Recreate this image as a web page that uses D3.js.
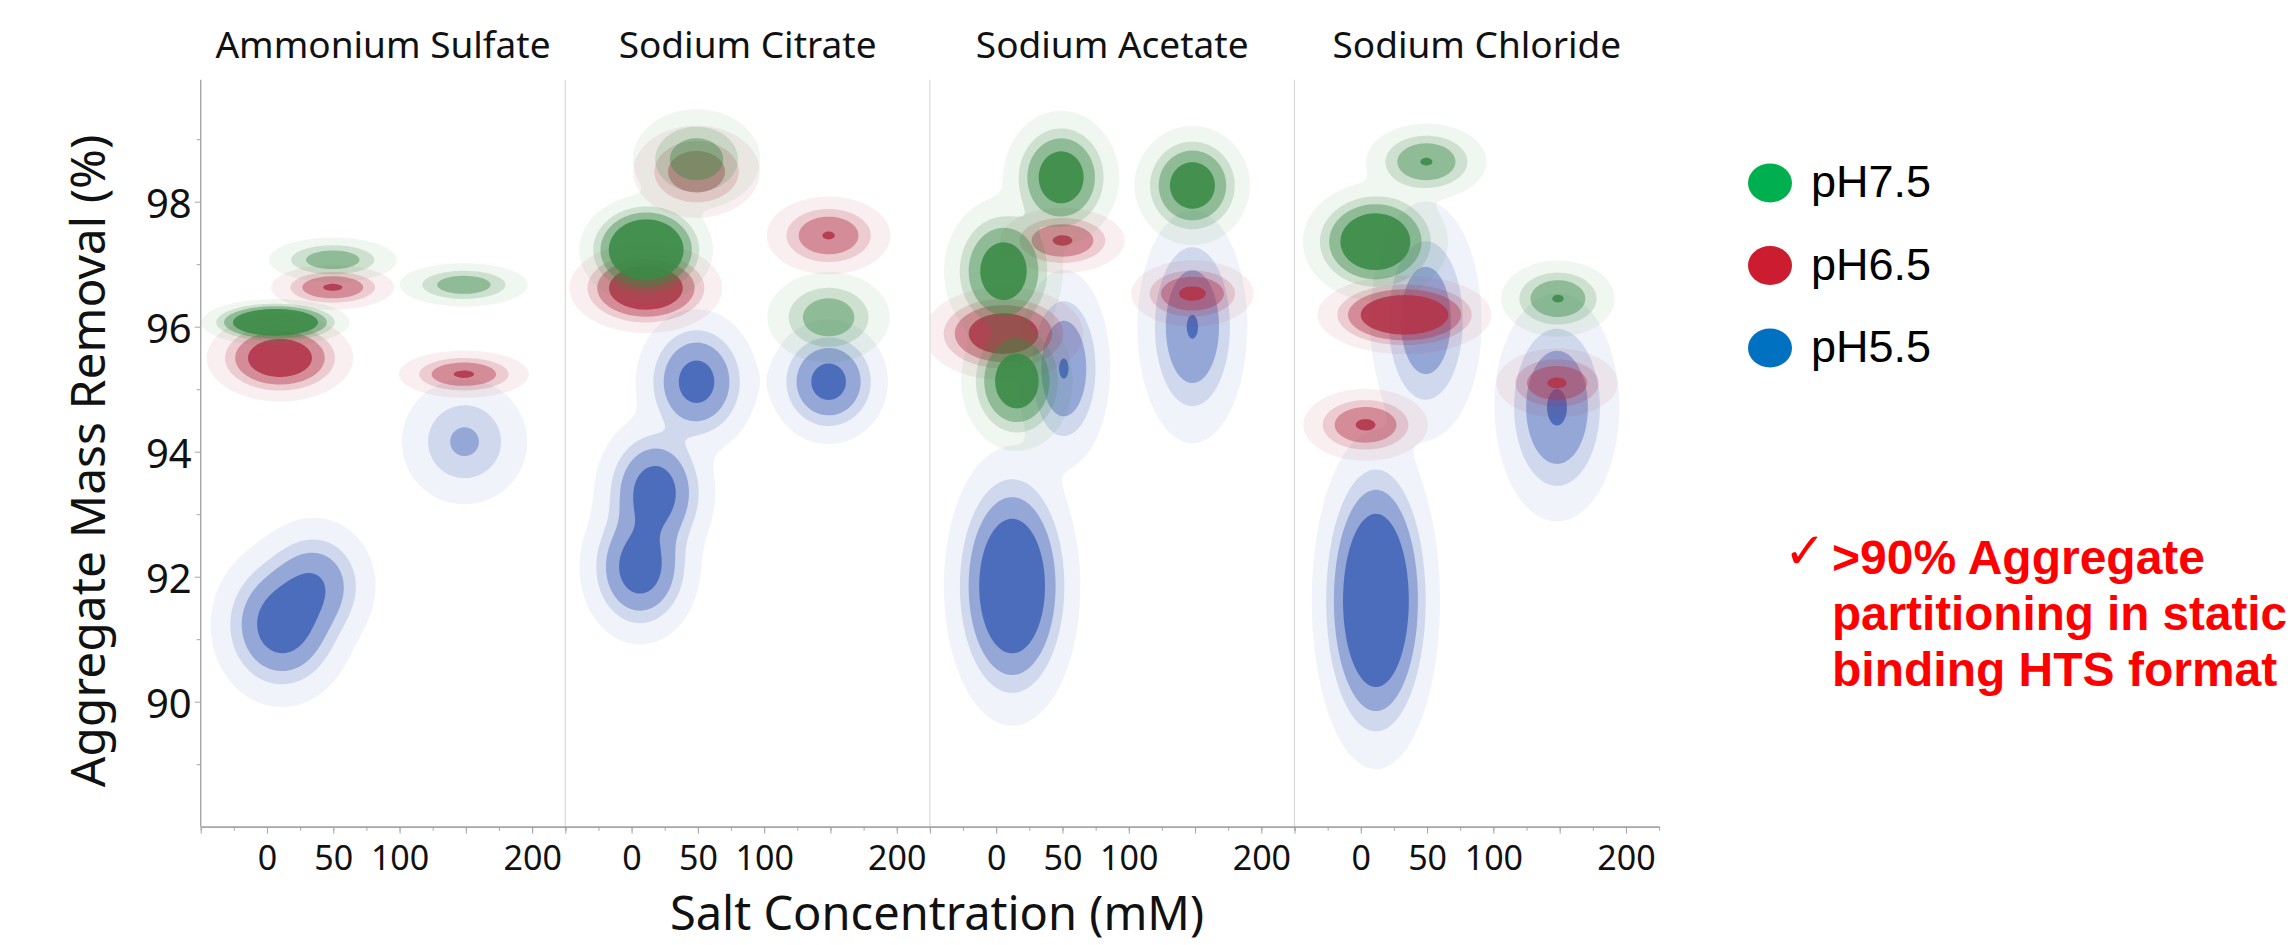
<!DOCTYPE html>
<html>
<head>
<meta charset="utf-8">
<script src="https://d3js.org/d3.v7.min.js"></script>
<style>
body { margin: 0; background: #fff; }
</style>
</head>
<body>
<div id="root"></div>
<script>
// Panels and series
var salts = ["Ammonium Sulfate", "Sodium Citrate", "Sodium Acetate", "Sodium Chloride"];
var phSeries = ["pH7.5", "pH6.5", "pH5.5"];

// Tick values
var xTicks = [-50, -25, 0, 25, 50, 75, 100, 125, 150, 175, 200, 225];
var xMajorTicks = [-50, 0, 50, 100, 150, 200];
var xTickLabels = [0, 50, 100, 200];
var yTicks = [90, 92, 94, 96, 98];
var yMinorTicks = [89, 91, 93, 95, 97, 99];

// Density peaks
// [salt index, salt conc (mM), removal (%), spread conc (mM), spread removal (%), weight]
var peaks75 = [
	[0, 6.4, 96.07, 17.8, 0.118, 2.8],
	[0, 49.6, 97.07, 19.3, 0.142, 0.45],
	[0, 148.5, 96.67, 19.3, 0.138, 0.45],
	[1, 49, 98.68, 19.2, 0.32, 0.45],
	[1, 11, 97.23, 16.2, 0.28, 2.5],
	[1, 148.6, 96.15, 18.5, 0.29, 0.45],
	[2, 49, 98.39, 15.5, 0.38, 1.0],
	[2, 148, 98.26, 15.5, 0.34, 1.0],
	[2, 5.5, 96.89, 16, 0.42, 1.0],
	[2, 15.6, 95.13, 15, 0.40, 1.0],
	[3, 49.5, 98.64, 17.5, 0.235, 0.57],
	[3, 11, 97.36, 18.6, 0.32, 1.5],
	[3, 148.7, 96.45, 16.5, 0.235, 0.57]
];
var peaks65 = [
	[0, 9.8, 95.5, 19.3, 0.243, 1.2],
	[0, 49.6, 96.63, 17.8, 0.136, 0.6],
	[0, 148.5, 95.24, 18.8, 0.144, 0.6],
	[1, 49, 98.48, 18.8, 0.29, 0.5],
	[1, 10.8, 96.62, 19.6, 0.245, 1.5],
	[1, 148.6, 97.46, 18, 0.24, 0.57],
	[2, 50, 97.38, 18, 0.2, 0.6],
	[2, 148, 96.53, 17.5, 0.2, 0.65],
	[2, 5.5, 95.89, 21, 0.26, 1.2],
	[3, 33, 96.19, 22, 0.21, 1.7],
	[3, 3.6, 94.43, 18, 0.22, 0.6],
	[3, 148, 95.1, 17.5, 0.21, 0.6]
];
var peaks55 = [
	[0, 11.2, 91.23, 19.6, 0.48, 0.85],
	[0, 36, 91.87, 18, 0.42, 0.5],
	[0, 149, 94.16, 20.3, 0.43, 0.30],
	[1, 49, 95.12, 17, 0.43, 0.75],
	[1, 148.6, 95.12, 16.6, 0.37, 0.75],
	[1, 17.6, 93.35, 16.6, 0.45, 0.85],
	[1, 6.3, 92.15, 16.6, 0.45, 0.85],
	[2, 51, 95.33, 13.5, 0.61, 0.57],
	[2, 148, 96.0, 16, 0.72, 0.57],
	[2, 12, 91.85, 17.5, 0.76, 1.5],
	[3, 49, 96.1, 16.5, 0.75, 0.5],
	[3, 148, 94.71, 18, 0.7, 0.6],
	[3, 11.4, 91.62, 16.1, 0.9, 1.8]
];
var contourLevels = [0.02, 0.12, 0.26, 0.55];

// Note text
var noteLines = [">90% Aggregate", "partitioning in static", "binding HTS format"];

// Styles
var fillColors = ["#3a8a46", "#b3344a", "#4264b8"];
var legendColors = ["#00b050", "#cc1c2f", "#0070c0"];
var levelOpacity = [0.08, 0.19, 0.42, 0.88];
var font = "'Noto Sans', 'Open Sans', sans-serif";

var width = 2291, height = 945;
var plotLeft = 200.7, panelWidth = 364.6;

var svg = d3.select("#root")
	.append("svg")
	.attr("width", width)
	.attr("height", height)
	.style("display", "block");

// Scales
var xPanel = d3.scaleBand()
	.domain(salts)
	.range([plotLeft, plotLeft + panelWidth * salts.length]);

var x = d3.scaleLinear()
	.domain([-50, 225])
	.range([0, panelWidth]);

var y = d3.scaleLinear()
	.domain([88, 100])
	.range([826.7, 76.7]);

// Density grid for one panel and one series
var cell = 2;
var nx = Math.ceil(panelWidth / cell);
var ny = Math.ceil((y(88) - y(100)) / cell);

function densityGrid(peaks, k) {
	var rows = peaks.filter(function (p) { return p[0] === k; });
	var values = new Float64Array(nx * ny);
	for (var j = 0; j < ny; j++) {
		var v = y.invert(y(100) + (j + 0.5) * cell);
		for (var i = 0; i < nx; i++) {
			var c = x.invert((i + 0.5) * cell);
			var s = 0;
			rows.forEach(function (p) {
				var dc = (c - p[1]) / p[3], dv = (v - p[2]) / p[4];
				s += p[5] * Math.exp(-0.5 * (dc * dc + dv * dv));
			});
			values[j * nx + i] = s;
		}
	}
	return values;
}

var contourGen = d3.contours()
	.size([nx, ny])
	.thresholds(contourLevels);

// Draw contours: pH5.5 first, pH7.5 on top
var seriesPeaks = [peaks75, peaks65, peaks55];
var contourLayer = svg.append("g").attr("class", "contours");

[2, 1, 0].forEach(function (si) {
	salts.forEach(function (salt, k) {
		var path = d3.geoPath(d3.geoIdentity().scale(cell).translate([xPanel(salt), y(100)]));
		var bands = contourGen(densityGrid(seriesPeaks[si], k));
		contourLayer.append("g")
			.selectAll("path")
			.data(bands)
			.enter().append("path")
			.attr("d", path)
			.attr("fill", fillColors[si])
			.attr("fill-opacity", function (d, i) { return levelOpacity[i]; })
			.attr("stroke", "none");
	});
});

// Panel dividers
svg.selectAll(".divider")
	.data(salts.slice(1))
	.enter().append("line")
	.attr("class", "divider")
	.attr("x1", function (d) { return xPanel(d); })
	.attr("x2", function (d) { return xPanel(d); })
	.attr("y1", y(100) + 3)
	.attr("y2", y(88))
	.attr("stroke", "#d9d9d9")
	.attr("stroke-width", 1.2);

// Add X axis for every panel
salts.forEach(function (salt) {
	var g = svg.append("g")
		.attr("transform", "translate(" + xPanel(salt) + "," + y(88) + ")");

	g.append("g")
		.call(d3.axisBottom(x).tickValues(xTicks).tickSize(4).tickSizeOuter(0).tickFormat(""));

	g.append("g")
		.call(d3.axisBottom(x)
			.tickValues(xMajorTicks)
			.tickSize(7)
			.tickSizeOuter(0)
			.tickPadding(12)
			.tickFormat(function (d) { return xTickLabels.indexOf(d) >= 0 ? d : ""; }));

	g.selectAll(".domain").attr("stroke", "#a6a6a6").attr("stroke-width", 1.4);
	g.selectAll(".tick line").attr("stroke", "#a6a6a6");
	g.selectAll(".tick text")
		.attr("font-family", font)
		.attr("font-size", 34)
		.attr("fill", "#111");
});

// Add Y axis
var yAxisG = svg.append("g")
	.attr("transform", "translate(" + plotLeft + ",0)");

yAxisG.append("g")
	.call(d3.axisLeft(y).tickValues(yMinorTicks).tickSize(4).tickSizeOuter(0).tickFormat(""));

yAxisG.append("g")
	.call(d3.axisLeft(y).tickValues(yTicks).tickSize(6).tickSizeOuter(0).tickPadding(3));

yAxisG.selectAll(".domain").remove();
yAxisG.selectAll(".tick line").attr("stroke", "#a6a6a6");
yAxisG.selectAll(".tick text")
	.attr("font-family", font)
	.attr("font-size", 40)
	.attr("dy", "0.4em")
	.attr("fill", "#111");

yAxisG.append("line")
	.attr("x1", 0).attr("x2", 0)
	.attr("y1", y(100) + 3).attr("y2", y(88))
	.attr("stroke", "#a6a6a6")
	.attr("stroke-width", 1.4);

// Panel titles
svg.selectAll(".panelTitle")
	.data(salts)
	.enter().append("text")
	.attr("class", "panelTitle")
	.attr("x", function (d) { return xPanel(d) + panelWidth / 2; })
	.attr("y", 58)
	.attr("text-anchor", "middle")
	.attr("font-family", font)
	.attr("font-size", 37)
	.attr("fill", "#111")
	.text(function (d) { return d; });

// Axis titles
svg.append("text")
	.attr("transform", "translate(105,461) rotate(-90)")
	.attr("text-anchor", "middle")
	.attr("font-family", font)
	.attr("font-size", 48)
	.attr("fill", "#111")
	.text("Aggregate Mass Removal (%)");

svg.append("text")
	.attr("x", 937)
	.attr("y", 930)
	.attr("text-anchor", "middle")
	.attr("font-family", font)
	.attr("font-size", 47)
	.attr("fill", "#111")
	.text("Salt Concentration (mM)");

// Legend
var legend = svg.selectAll(".legendItem")
	.data(phSeries)
	.enter().append("g")
	.attr("class", "legendItem")
	.attr("transform", function (d, i) { return "translate(1770," + (183 + i * 82.5) + ")"; });

legend.append("ellipse")
	.attr("rx", 22)
	.attr("ry", 19.5)
	.attr("fill", function (d, i) { return legendColors[i]; });

legend.append("text")
	.attr("x", 41)
	.attr("y", 14)
	.attr("font-family", "'Liberation Sans', Arial, sans-serif")
	.attr("font-size", 45)
	.attr("fill", "#000")
	.text(function (d) { return d; });

// Note
svg.append("text")
	.attr("x", 1784)
	.attr("y", 568)
	.attr("font-family", "'DejaVu Sans', sans-serif")
	.attr("font-size", 50)
	.attr("fill", "#ff0000")
	.text("\u2713");

svg.selectAll(".note")
	.data(noteLines)
	.enter().append("text")
	.attr("class", "note")
	.attr("x", 1832)
	.attr("y", function (d, i) { return 574 + i * 56; })
	.attr("font-family", "'Liberation Sans', Arial, sans-serif")
	.attr("font-weight", "bold")
	.attr("font-size", 48)
	.attr("fill", "#ff0000")
	.text(function (d) { return d; })
	.each(function () {
		// keep the longest line inside the picture
		var w = this.getComputedTextLength();
		var room = width - 4 - 1832;
		if (w > room) {
			d3.select(this).attr("textLength", room).attr("lengthAdjust", "spacingAndGlyphs");
		}
	});
</script>
</body>
</html>
